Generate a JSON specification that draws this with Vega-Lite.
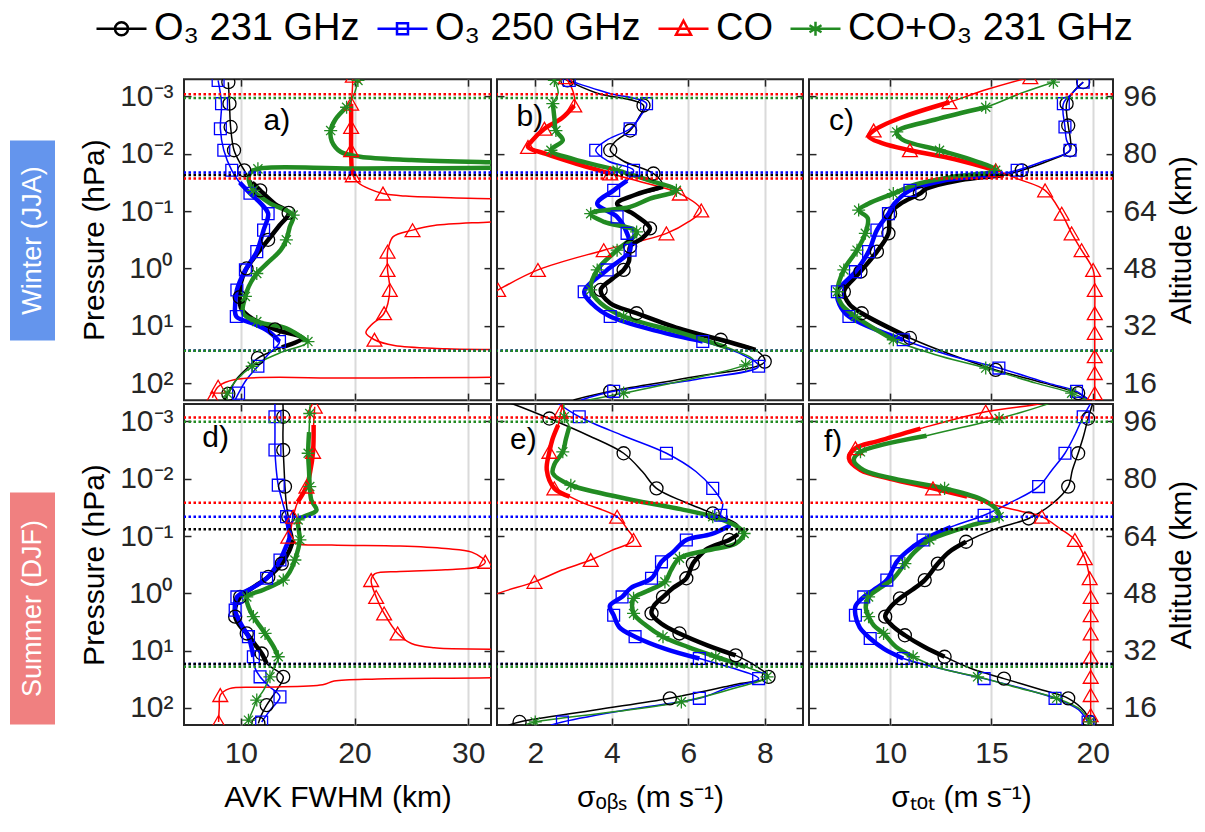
{
"$schema": "https://vega.github.io/schema/vega-lite/v6.json",
"padding": {"left": 10, "top": 2, "right": 5, "bottom": 5},
"config": {
  "font": "Liberation Sans",
  "view": {"stroke": "#262626", "strokeWidth": 2},
  "axis": {"domain": false, "grid": false, "tickSize": -7, "tickWidth": 1.5, "tickColor": "#262626", "labelFont": "Liberation Sans", "labelFontSize": 30, "labelColor": "#262626", "titleFont": "Liberation Sans", "titleFontSize": 30, "titleFontWeight": "normal", "titleColor": "#000000", "labelPadding": 18}
},
"datasets": {
"curves": [
{"panel":"a","series":"O3_231","alt":100.0,"value":8.9,"marker":1},{"panel":"a","series":"O3_231","alt":94.0,"value":9.0,"marker":1},{"panel":"a","series":"O3_231","alt":87.5,"value":9.1,"marker":1},{"panel":"a","series":"O3_231","alt":81.0,"value":9.4,"marker":1},{"panel":"a","series":"O3_231","alt":77.0,"value":10.0,"marker":0},{"panel":"a","series":"O3_231","alt":75.4,"value":10.3,"marker":1},{"panel":"a","series":"O3_231","alt":72.0,"value":11.0,"marker":0},{"panel":"a","series":"O3_231","alt":69.8,"value":11.7,"marker":1},{"panel":"a","series":"O3_231","alt":66.0,"value":13.0,"marker":0},{"panel":"a","series":"O3_231","alt":63.5,"value":14.2,"marker":1},{"panel":"a","series":"O3_231","alt":60.0,"value":13.4,"marker":0},{"panel":"a","series":"O3_231","alt":56.0,"value":12.4,"marker":1},{"panel":"a","series":"O3_231","alt":52.0,"value":11.4,"marker":0},{"panel":"a","series":"O3_231","alt":48.0,"value":10.5,"marker":1},{"panel":"a","series":"O3_231","alt":44.0,"value":10.0,"marker":0},{"panel":"a","series":"O3_231","alt":40.0,"value":9.9,"marker":1},{"panel":"a","series":"O3_231","alt":37.0,"value":10.0,"marker":0},{"panel":"a","series":"O3_231","alt":34.0,"value":11.0,"marker":0},{"panel":"a","series":"O3_231","alt":31.0,"value":13.0,"marker":1},{"panel":"a","series":"O3_231","alt":28.5,"value":15.4,"marker":0},{"panel":"a","series":"O3_231","alt":26.0,"value":13.6,"marker":0},{"panel":"a","series":"O3_231","alt":23.0,"value":11.5,"marker":1},{"panel":"a","series":"O3_231","alt":20.0,"value":10.5,"marker":0},{"panel":"a","series":"O3_231","alt":17.0,"value":9.6,"marker":0},{"panel":"a","series":"O3_231","alt":13.0,"value":8.9,"marker":1},{"panel":"a","series":"O3_231","alt":11.3,"value":8.6,"marker":0},
{"panel":"a","series":"O3_250","alt":100.5,"value":8.0,"marker":1},{"panel":"a","series":"O3_250","alt":94.0,"value":8.3,"marker":1},{"panel":"a","series":"O3_250","alt":87.0,"value":8.2,"marker":1},{"panel":"a","series":"O3_250","alt":81.0,"value":8.5,"marker":1},{"panel":"a","series":"O3_250","alt":75.4,"value":9.2,"marker":1},{"panel":"a","series":"O3_250","alt":72.0,"value":9.9,"marker":0},{"panel":"a","series":"O3_250","alt":69.0,"value":10.8,"marker":1},{"panel":"a","series":"O3_250","alt":66.0,"value":11.8,"marker":0},{"panel":"a","series":"O3_250","alt":63.3,"value":12.4,"marker":1},{"panel":"a","series":"O3_250","alt":58.7,"value":12.0,"marker":1},{"panel":"a","series":"O3_250","alt":52.7,"value":11.4,"marker":1},{"panel":"a","series":"O3_250","alt":47.6,"value":10.4,"marker":1},{"panel":"a","series":"O3_250","alt":42.0,"value":9.65,"marker":1},{"panel":"a","series":"O3_250","alt":38.0,"value":9.5,"marker":0},{"panel":"a","series":"O3_250","alt":34.6,"value":9.6,"marker":1},{"panel":"a","series":"O3_250","alt":32.7,"value":11.0,"marker":0},{"panel":"a","series":"O3_250","alt":30.5,"value":12.4,"marker":0},{"panel":"a","series":"O3_250","alt":27.6,"value":13.4,"marker":1},{"panel":"a","series":"O3_250","alt":24.0,"value":12.4,"marker":0},{"panel":"a","series":"O3_250","alt":20.7,"value":11.5,"marker":1},{"panel":"a","series":"O3_250","alt":17.0,"value":10.5,"marker":0},{"panel":"a","series":"O3_250","alt":13.2,"value":9.8,"marker":1},{"panel":"a","series":"O3_250","alt":11.3,"value":9.5,"marker":0},
{"panel":"a","series":"CO","alt":101.8,"value":19.85,"marker":1},{"panel":"a","series":"CO","alt":97.5,"value":19.8,"marker":0},{"panel":"a","series":"CO","alt":94.0,"value":19.7,"marker":1},{"panel":"a","series":"CO","alt":87.5,"value":19.7,"marker":1},{"panel":"a","series":"CO","alt":81.0,"value":19.7,"marker":1},{"panel":"a","series":"CO","alt":76.0,"value":19.75,"marker":0},{"panel":"a","series":"CO","alt":74.0,"value":19.85,"marker":1},{"panel":"a","series":"CO","alt":72.0,"value":20.3,"marker":0},{"panel":"a","series":"CO","alt":70.2,"value":21.3,"marker":0},{"panel":"a","series":"CO","alt":68.9,"value":22.5,"marker":1},{"panel":"a","series":"CO","alt":68.2,"value":24.5,"marker":0},{"panel":"a","series":"CO","alt":67.6,"value":30,"marker":0},{"panel":"a","series":"CO","alt":67.0,"value":38,"marker":0},{"panel":"a","series":"CO","alt":65.0,"value":45,"marker":0},{"panel":"a","series":"CO","alt":62.5,"value":42,"marker":0},{"panel":"a","series":"CO","alt":61.0,"value":32,"marker":0},{"panel":"a","series":"CO","alt":60.0,"value":27,"marker":0},{"panel":"a","series":"CO","alt":58.7,"value":25.1,"marker":1},{"panel":"a","series":"CO","alt":56.9,"value":23.4,"marker":0},{"panel":"a","series":"CO","alt":54.1,"value":23.0,"marker":0},{"panel":"a","series":"CO","alt":52.7,"value":22.9,"marker":1},{"panel":"a","series":"CO","alt":47.6,"value":22.9,"marker":1},{"panel":"a","series":"CO","alt":42.0,"value":23.1,"marker":1},{"panel":"a","series":"CO","alt":35.5,"value":22.6,"marker":1},{"panel":"a","series":"CO","alt":32.0,"value":21.4,"marker":0},{"panel":"a","series":"CO","alt":30.0,"value":21.0,"marker":0},{"panel":"a","series":"CO","alt":28.1,"value":21.75,"marker":1},{"panel":"a","series":"CO","alt":26.5,"value":23.5,"marker":0},{"panel":"a","series":"CO","alt":25.6,"value":28,"marker":0},{"panel":"a","series":"CO","alt":25.0,"value":36,"marker":0},{"panel":"a","series":"CO","alt":22.0,"value":45,"marker":0},{"panel":"a","series":"CO","alt":19.0,"value":45,"marker":0},{"panel":"a","series":"CO","alt":17.8,"value":36,"marker":0},{"panel":"a","series":"CO","alt":17.4,"value":20,"marker":0},{"panel":"a","series":"CO","alt":17.0,"value":9.5,"marker":0},{"panel":"a","series":"CO","alt":15.0,"value":8.0,"marker":1},{"panel":"a","series":"CO","alt":11.9,"value":7.5,"marker":1},
{"panel":"a","series":"CO_O3","alt":100.5,"value":20.3,"marker":1},{"panel":"a","series":"CO_O3","alt":97.0,"value":20.0,"marker":0},{"panel":"a","series":"CO_O3","alt":93.0,"value":19.3,"marker":1},{"panel":"a","series":"CO_O3","alt":89.5,"value":18.3,"marker":0},{"panel":"a","series":"CO_O3","alt":86.5,"value":17.9,"marker":1},{"panel":"a","series":"CO_O3","alt":83.5,"value":18.0,"marker":0},{"panel":"a","series":"CO_O3","alt":80.5,"value":18.8,"marker":0},{"panel":"a","series":"CO_O3","alt":79.2,"value":20.5,"marker":0},{"panel":"a","series":"CO_O3","alt":78.3,"value":25,"marker":0},{"panel":"a","series":"CO_O3","alt":77.6,"value":33,"marker":0},{"panel":"a","series":"CO_O3","alt":77.0,"value":42,"marker":0},{"panel":"a","series":"CO_O3","alt":76.3,"value":36,"marker":0},{"panel":"a","series":"CO_O3","alt":75.9,"value":20,"marker":0},{"panel":"a","series":"CO_O3","alt":75.8,"value":11.5,"marker":1},{"panel":"a","series":"CO_O3","alt":74.5,"value":10.8,"marker":0},{"panel":"a","series":"CO_O3","alt":72.5,"value":10.7,"marker":0},{"panel":"a","series":"CO_O3","alt":69.8,"value":11.1,"marker":1},{"panel":"a","series":"CO_O3","alt":66.1,"value":12.6,"marker":0},{"panel":"a","series":"CO_O3","alt":62.9,"value":14.6,"marker":1},{"panel":"a","series":"CO_O3","alt":59.6,"value":14.3,"marker":0},{"panel":"a","series":"CO_O3","alt":56.0,"value":14.0,"marker":1},{"panel":"a","series":"CO_O3","alt":53.1,"value":13.5,"marker":0},{"panel":"a","series":"CO_O3","alt":49.4,"value":12.3,"marker":0},{"panel":"a","series":"CO_O3","alt":46.6,"value":11.4,"marker":1},{"panel":"a","series":"CO_O3","alt":43.0,"value":10.7,"marker":0},{"panel":"a","series":"CO_O3","alt":40.2,"value":10.4,"marker":1},{"panel":"a","series":"CO_O3","alt":35.5,"value":10.2,"marker":0},{"panel":"a","series":"CO_O3","alt":33.2,"value":11.4,"marker":1},{"panel":"a","series":"CO_O3","alt":31.3,"value":14.0,"marker":0},{"panel":"a","series":"CO_O3","alt":27.6,"value":15.9,"marker":1},{"panel":"a","series":"CO_O3","alt":24.4,"value":13.4,"marker":0},{"panel":"a","series":"CO_O3","alt":20.7,"value":11.0,"marker":1},{"panel":"a","series":"CO_O3","alt":17.0,"value":9.65,"marker":0},{"panel":"a","series":"CO_O3","alt":13.2,"value":8.8,"marker":1},{"panel":"a","series":"CO_O3","alt":11.3,"value":8.5,"marker":0},
{"panel":"b","series":"O3_231","alt":102.0,"value":2.6,"marker":0},{"panel":"b","series":"O3_231","alt":100.5,"value":2.84,"marker":1},{"panel":"b","series":"O3_231","alt":97.0,"value":3.6,"marker":0},{"panel":"b","series":"O3_231","alt":93.5,"value":4.83,"marker":1},{"panel":"b","series":"O3_231","alt":90.0,"value":4.7,"marker":0},{"panel":"b","series":"O3_231","alt":86.5,"value":4.48,"marker":1},{"panel":"b","series":"O3_231","alt":83.5,"value":4.1,"marker":0},{"panel":"b","series":"O3_231","alt":81.0,"value":3.96,"marker":1},{"panel":"b","series":"O3_231","alt":78.0,"value":4.3,"marker":0},{"panel":"b","series":"O3_231","alt":74.5,"value":5.09,"marker":1},{"panel":"b","series":"O3_231","alt":70.8,"value":5.34,"marker":0},{"panel":"b","series":"O3_231","alt":68.5,"value":4.6,"marker":0},{"panel":"b","series":"O3_231","alt":66.1,"value":4.14,"marker":0},{"panel":"b","series":"O3_231","alt":63.0,"value":4.6,"marker":0},{"panel":"b","series":"O3_231","alt":59.2,"value":5.0,"marker":1},{"panel":"b","series":"O3_231","alt":56.5,"value":4.8,"marker":0},{"panel":"b","series":"O3_231","alt":54.1,"value":4.48,"marker":1},{"panel":"b","series":"O3_231","alt":50.0,"value":4.45,"marker":0},{"panel":"b","series":"O3_231","alt":47.6,"value":4.31,"marker":1},{"panel":"b","series":"O3_231","alt":45.0,"value":4.0,"marker":0},{"panel":"b","series":"O3_231","alt":42.0,"value":3.71,"marker":1},{"panel":"b","series":"O3_231","alt":38.3,"value":3.96,"marker":0},{"panel":"b","series":"O3_231","alt":35.5,"value":4.65,"marker":1},{"panel":"b","series":"O3_231","alt":30.9,"value":5.86,"marker":0},{"panel":"b","series":"O3_231","alt":28.1,"value":6.85,"marker":1},{"panel":"b","series":"O3_231","alt":25.3,"value":7.76,"marker":0},{"panel":"b","series":"O3_231","alt":22.0,"value":8.0,"marker":1},{"panel":"b","series":"O3_231","alt":17.5,"value":6.0,"marker":0},{"panel":"b","series":"O3_231","alt":13.7,"value":3.96,"marker":1},{"panel":"b","series":"O3_231","alt":11.3,"value":3.0,"marker":0},
{"panel":"b","series":"O3_250","alt":102.0,"value":2.6,"marker":0},{"panel":"b","series":"O3_250","alt":100.5,"value":2.89,"marker":1},{"panel":"b","series":"O3_250","alt":97.0,"value":3.9,"marker":0},{"panel":"b","series":"O3_250","alt":94.0,"value":4.91,"marker":1},{"panel":"b","series":"O3_250","alt":90.5,"value":4.75,"marker":0},{"panel":"b","series":"O3_250","alt":87.0,"value":4.48,"marker":1},{"panel":"b","series":"O3_250","alt":84.0,"value":3.9,"marker":0},{"panel":"b","series":"O3_250","alt":81.0,"value":3.58,"marker":1},{"panel":"b","series":"O3_250","alt":78.0,"value":3.9,"marker":0},{"panel":"b","series":"O3_250","alt":75.4,"value":4.57,"marker":1},{"panel":"b","series":"O3_250","alt":72.5,"value":4.4,"marker":0},{"panel":"b","series":"O3_250","alt":69.8,"value":4.05,"marker":1},{"panel":"b","series":"O3_250","alt":66.1,"value":3.62,"marker":0},{"panel":"b","series":"O3_250","alt":62.4,"value":4.14,"marker":1},{"panel":"b","series":"O3_250","alt":57.8,"value":4.4,"marker":1},{"panel":"b","series":"O3_250","alt":53.1,"value":4.48,"marker":1},{"panel":"b","series":"O3_250","alt":47.6,"value":3.88,"marker":1},{"panel":"b","series":"O3_250","alt":41.5,"value":3.28,"marker":1},{"panel":"b","series":"O3_250","alt":38.0,"value":3.5,"marker":0},{"panel":"b","series":"O3_250","alt":34.6,"value":3.96,"marker":1},{"panel":"b","series":"O3_250","alt":30.5,"value":5.2,"marker":0},{"panel":"b","series":"O3_250","alt":27.6,"value":6.38,"marker":1},{"panel":"b","series":"O3_250","alt":24.0,"value":7.4,"marker":0},{"panel":"b","series":"O3_250","alt":20.7,"value":7.84,"marker":1},{"panel":"b","series":"O3_250","alt":17.0,"value":6.2,"marker":0},{"panel":"b","series":"O3_250","alt":13.7,"value":4.05,"marker":1},{"panel":"b","series":"O3_250","alt":11.3,"value":3.2,"marker":0},
{"panel":"b","series":"CO","alt":101.4,"value":2.8,"marker":1},{"panel":"b","series":"CO","alt":97.0,"value":3.0,"marker":0},{"panel":"b","series":"CO","alt":93.5,"value":3.02,"marker":1},{"panel":"b","series":"CO","alt":90.0,"value":2.7,"marker":0},{"panel":"b","series":"CO","alt":87.0,"value":2.24,"marker":1},{"panel":"b","series":"CO","alt":83.5,"value":1.9,"marker":0},{"panel":"b","series":"CO","alt":81.9,"value":1.81,"marker":1},{"panel":"b","series":"CO","alt":80.0,"value":2.28,"marker":0},{"panel":"b","series":"CO","alt":77.5,"value":3.0,"marker":0},{"panel":"b","series":"CO","alt":74.5,"value":3.96,"marker":1},{"panel":"b","series":"CO","alt":71.5,"value":5.0,"marker":0},{"panel":"b","series":"CO","alt":68.9,"value":5.78,"marker":1},{"panel":"b","series":"CO","alt":64.2,"value":6.34,"marker":1},{"panel":"b","series":"CO","alt":61.0,"value":6.0,"marker":0},{"panel":"b","series":"CO","alt":57.8,"value":5.43,"marker":1},{"panel":"b","series":"CO","alt":53.1,"value":3.79,"marker":1},{"panel":"b","series":"CO","alt":47.6,"value":2.07,"marker":1},{"panel":"b","series":"CO","alt":42.0,"value":1.03,"marker":1},{"panel":"b","series":"CO","alt":38.0,"value":0.4,"marker":0},{"panel":"b","series":"CO","alt":30.0,"value":0.2,"marker":0},{"panel":"b","series":"CO","alt":11.3,"value":0.2,"marker":0},
{"panel":"b","series":"CO_O3","alt":101.5,"value":2.45,"marker":0},{"panel":"b","series":"CO_O3","alt":100.5,"value":2.5,"marker":1},{"panel":"b","series":"CO_O3","alt":97.0,"value":2.6,"marker":0},{"panel":"b","series":"CO_O3","alt":94.0,"value":2.46,"marker":1},{"panel":"b","series":"CO_O3","alt":90.0,"value":2.5,"marker":0},{"panel":"b","series":"CO_O3","alt":86.5,"value":2.54,"marker":1},{"panel":"b","series":"CO_O3","alt":83.8,"value":2.72,"marker":0},{"panel":"b","series":"CO_O3","alt":81.0,"value":2.41,"marker":1},{"panel":"b","series":"CO_O3","alt":78.5,"value":3.0,"marker":0},{"panel":"b","series":"CO_O3","alt":75.4,"value":4.14,"marker":1},{"panel":"b","series":"CO_O3","alt":72.5,"value":5.0,"marker":0},{"panel":"b","series":"CO_O3","alt":69.8,"value":5.69,"marker":1},{"panel":"b","series":"CO_O3","alt":67.5,"value":5.0,"marker":0},{"panel":"b","series":"CO_O3","alt":65.2,"value":4.48,"marker":0},{"panel":"b","series":"CO_O3","alt":63.3,"value":3.45,"marker":1},{"panel":"b","series":"CO_O3","alt":61.0,"value":3.8,"marker":0},{"panel":"b","series":"CO_O3","alt":58.2,"value":4.65,"marker":1},{"panel":"b","series":"CO_O3","alt":53.1,"value":4.14,"marker":1},{"panel":"b","series":"CO_O3","alt":47.6,"value":3.62,"marker":1},{"panel":"b","series":"CO_O3","alt":42.0,"value":3.45,"marker":1},{"panel":"b","series":"CO_O3","alt":38.3,"value":3.71,"marker":0},{"panel":"b","series":"CO_O3","alt":34.6,"value":4.31,"marker":1},{"panel":"b","series":"CO_O3","alt":29.9,"value":5.86,"marker":0},{"panel":"b","series":"CO_O3","alt":26.0,"value":7.0,"marker":0},{"panel":"b","series":"CO_O3","alt":22.5,"value":7.7,"marker":0},{"panel":"b","series":"CO_O3","alt":21.1,"value":7.5,"marker":1},{"panel":"b","series":"CO_O3","alt":17.0,"value":6.0,"marker":0},{"panel":"b","series":"CO_O3","alt":13.2,"value":4.31,"marker":1},{"panel":"b","series":"CO_O3","alt":11.3,"value":3.4,"marker":0},
{"panel":"c","series":"O3_231","alt":100.0,"value":19.53,"marker":1},{"panel":"c","series":"O3_231","alt":97.0,"value":19.0,"marker":0},{"panel":"c","series":"O3_231","alt":94.0,"value":18.71,"marker":1},{"panel":"c","series":"O3_231","alt":87.9,"value":18.79,"marker":1},{"panel":"c","series":"O3_231","alt":84.0,"value":18.9,"marker":0},{"panel":"c","series":"O3_231","alt":81.0,"value":18.88,"marker":1},{"panel":"c","series":"O3_231","alt":78.0,"value":17.8,"marker":0},{"panel":"c","series":"O3_231","alt":75.4,"value":16.5,"marker":1},{"panel":"c","series":"O3_231","alt":74.0,"value":15.6,"marker":0},{"panel":"c","series":"O3_231","alt":72.5,"value":13.3,"marker":0},{"panel":"c","series":"O3_231","alt":70.3,"value":11.8,"marker":0},{"panel":"c","series":"O3_231","alt":68.9,"value":11.47,"marker":1},{"panel":"c","series":"O3_231","alt":66.0,"value":10.5,"marker":0},{"panel":"c","series":"O3_231","alt":63.3,"value":10.0,"marker":1},{"panel":"c","series":"O3_231","alt":57.8,"value":9.92,"marker":1},{"panel":"c","series":"O3_231","alt":52.7,"value":9.35,"marker":1},{"panel":"c","series":"O3_231","alt":47.1,"value":8.54,"marker":1},{"panel":"c","series":"O3_231","alt":41.5,"value":7.72,"marker":1},{"panel":"c","series":"O3_231","alt":38.0,"value":8.0,"marker":0},{"panel":"c","series":"O3_231","alt":35.5,"value":8.6,"marker":1},{"panel":"c","series":"O3_231","alt":28.6,"value":10.98,"marker":1},{"panel":"c","series":"O3_231","alt":24.0,"value":13.0,"marker":0},{"panel":"c","series":"O3_231","alt":19.7,"value":15.21,"marker":1},{"panel":"c","series":"O3_231","alt":16.0,"value":17.6,"marker":0},{"panel":"c","series":"O3_231","alt":13.2,"value":19.28,"marker":1},{"panel":"c","series":"O3_231","alt":11.3,"value":19.8,"marker":0},
{"panel":"c","series":"O3_250","alt":100.0,"value":19.53,"marker":1},{"panel":"c","series":"O3_250","alt":97.0,"value":19.0,"marker":0},{"panel":"c","series":"O3_250","alt":94.0,"value":18.55,"marker":1},{"panel":"c","series":"O3_250","alt":87.5,"value":18.63,"marker":1},{"panel":"c","series":"O3_250","alt":84.0,"value":18.7,"marker":0},{"panel":"c","series":"O3_250","alt":81.0,"value":18.88,"marker":1},{"panel":"c","series":"O3_250","alt":78.0,"value":17.6,"marker":0},{"panel":"c","series":"O3_250","alt":75.4,"value":16.27,"marker":1},{"panel":"c","series":"O3_250","alt":74.0,"value":15.2,"marker":0},{"panel":"c","series":"O3_250","alt":72.5,"value":12.6,"marker":0},{"panel":"c","series":"O3_250","alt":69.8,"value":10.98,"marker":1},{"panel":"c","series":"O3_250","alt":66.0,"value":10.2,"marker":0},{"panel":"c","series":"O3_250","alt":63.3,"value":9.92,"marker":1},{"panel":"c","series":"O3_250","alt":58.7,"value":9.35,"marker":1},{"panel":"c","series":"O3_250","alt":52.7,"value":8.94,"marker":1},{"panel":"c","series":"O3_250","alt":47.1,"value":8.29,"marker":1},{"panel":"c","series":"O3_250","alt":41.5,"value":7.4,"marker":1},{"panel":"c","series":"O3_250","alt":38.0,"value":7.5,"marker":0},{"panel":"c","series":"O3_250","alt":34.6,"value":7.97,"marker":1},{"panel":"c","series":"O3_250","alt":28.1,"value":10.65,"marker":1},{"panel":"c","series":"O3_250","alt":24.0,"value":12.8,"marker":0},{"panel":"c","series":"O3_250","alt":20.2,"value":15.37,"marker":1},{"panel":"c","series":"O3_250","alt":16.0,"value":17.8,"marker":0},{"panel":"c","series":"O3_250","alt":13.7,"value":19.2,"marker":1},{"panel":"c","series":"O3_250","alt":11.3,"value":19.8,"marker":0},
{"panel":"c","series":"CO","alt":101.4,"value":16.92,"marker":1},{"panel":"c","series":"CO","alt":98.0,"value":14.8,"marker":0},{"panel":"c","series":"CO","alt":94.4,"value":12.93,"marker":1},{"panel":"c","series":"CO","alt":90.0,"value":10.5,"marker":0},{"panel":"c","series":"CO","alt":86.5,"value":9.19,"marker":1},{"panel":"c","series":"CO","alt":84.8,"value":8.95,"marker":0},{"panel":"c","series":"CO","alt":83.0,"value":9.6,"marker":0},{"panel":"c","series":"CO","alt":81.0,"value":10.98,"marker":1},{"panel":"c","series":"CO","alt":78.5,"value":13.2,"marker":0},{"panel":"c","series":"CO","alt":75.4,"value":15.21,"marker":1},{"panel":"c","series":"CO","alt":73.0,"value":16.3,"marker":0},{"panel":"c","series":"CO","alt":69.8,"value":17.65,"marker":1},{"panel":"c","series":"CO","alt":63.3,"value":18.47,"marker":1},{"panel":"c","series":"CO","alt":57.8,"value":18.96,"marker":1},{"panel":"c","series":"CO","alt":53.1,"value":19.45,"marker":1},{"panel":"c","series":"CO","alt":47.6,"value":20.02,"marker":1},{"panel":"c","series":"CO","alt":42.0,"value":20.1,"marker":1},{"panel":"c","series":"CO","alt":35.5,"value":20.1,"marker":1},{"panel":"c","series":"CO","alt":30.0,"value":20.1,"marker":1},{"panel":"c","series":"CO","alt":23.5,"value":20.1,"marker":1},{"panel":"c","series":"CO","alt":18.8,"value":20.1,"marker":1},{"panel":"c","series":"CO","alt":13.2,"value":20.1,"marker":1},{"panel":"c","series":"CO","alt":11.3,"value":20.1,"marker":0},
{"panel":"c","series":"CO_O3","alt":100.0,"value":18.06,"marker":1},{"panel":"c","series":"CO_O3","alt":97.0,"value":16.5,"marker":0},{"panel":"c","series":"CO_O3","alt":93.0,"value":14.72,"marker":1},{"panel":"c","series":"CO_O3","alt":89.5,"value":12.2,"marker":0},{"panel":"c","series":"CO_O3","alt":86.1,"value":10.33,"marker":1},{"panel":"c","series":"CO_O3","alt":84.0,"value":10.6,"marker":0},{"panel":"c","series":"CO_O3","alt":81.0,"value":12.44,"marker":1},{"panel":"c","series":"CO_O3","alt":78.0,"value":14.2,"marker":0},{"panel":"c","series":"CO_O3","alt":75.4,"value":15.21,"marker":1},{"panel":"c","series":"CO_O3","alt":73.5,"value":13.0,"marker":0},{"panel":"c","series":"CO_O3","alt":71.5,"value":11.3,"marker":0},{"panel":"c","series":"CO_O3","alt":68.9,"value":10.16,"marker":1},{"panel":"c","series":"CO_O3","alt":66.0,"value":8.9,"marker":0},{"panel":"c","series":"CO_O3","alt":64.3,"value":8.45,"marker":1},{"panel":"c","series":"CO_O3","alt":62.0,"value":8.9,"marker":0},{"panel":"c","series":"CO_O3","alt":57.8,"value":8.78,"marker":1},{"panel":"c","series":"CO_O3","alt":53.1,"value":8.37,"marker":1},{"panel":"c","series":"CO_O3","alt":47.6,"value":7.72,"marker":1},{"panel":"c","series":"CO_O3","alt":41.5,"value":7.4,"marker":1},{"panel":"c","series":"CO_O3","alt":38.0,"value":7.6,"marker":0},{"panel":"c","series":"CO_O3","alt":34.6,"value":8.29,"marker":1},{"panel":"c","series":"CO_O3","alt":28.1,"value":10.16,"marker":1},{"panel":"c","series":"CO_O3","alt":24.0,"value":12.2,"marker":0},{"panel":"c","series":"CO_O3","alt":20.2,"value":14.72,"marker":1},{"panel":"c","series":"CO_O3","alt":16.0,"value":17.2,"marker":0},{"panel":"c","series":"CO_O3","alt":13.2,"value":18.96,"marker":1},{"panel":"c","series":"CO_O3","alt":11.3,"value":19.7,"marker":0},
{"panel":"d","series":"O3_231","alt":101.0,"value":13.7,"marker":0},{"panel":"d","series":"O3_231","alt":97.3,"value":13.73,"marker":1},{"panel":"d","series":"O3_231","alt":92.0,"value":13.7,"marker":0},{"panel":"d","series":"O3_231","alt":88.0,"value":13.73,"marker":1},{"panel":"d","series":"O3_231","alt":83.0,"value":13.8,"marker":0},{"panel":"d","series":"O3_231","alt":77.8,"value":13.88,"marker":1},{"panel":"d","series":"O3_231","alt":73.0,"value":14.0,"marker":0},{"panel":"d","series":"O3_231","alt":69.4,"value":14.17,"marker":1},{"panel":"d","series":"O3_231","alt":66.0,"value":14.4,"marker":0},{"panel":"d","series":"O3_231","alt":62.9,"value":14.6,"marker":0},{"panel":"d","series":"O3_231","alt":59.5,"value":14.2,"marker":0},{"panel":"d","series":"O3_231","alt":56.3,"value":13.6,"marker":1},{"panel":"d","series":"O3_231","alt":52.6,"value":12.42,"marker":1},{"panel":"d","series":"O3_231","alt":49.5,"value":11.0,"marker":0},{"panel":"d","series":"O3_231","alt":47.0,"value":9.94,"marker":1},{"panel":"d","series":"O3_231","alt":44.0,"value":9.5,"marker":0},{"panel":"d","series":"O3_231","alt":41.5,"value":9.5,"marker":1},{"panel":"d","series":"O3_231","alt":39.0,"value":9.9,"marker":0},{"panel":"d","series":"O3_231","alt":36.8,"value":10.52,"marker":1},{"panel":"d","series":"O3_231","alt":33.5,"value":11.3,"marker":0},{"panel":"d","series":"O3_231","alt":31.2,"value":11.83,"marker":1},{"panel":"d","series":"O3_231","alt":28.4,"value":12.27,"marker":0},{"panel":"d","series":"O3_231","alt":24.7,"value":13.73,"marker":1},{"panel":"d","series":"O3_231","alt":21.0,"value":13.15,"marker":0},{"panel":"d","series":"O3_231","alt":16.8,"value":12.27,"marker":1},{"panel":"d","series":"O3_231","alt":14.0,"value":11.8,"marker":0},{"panel":"d","series":"O3_231","alt":11.7,"value":11.54,"marker":1},
{"panel":"d","series":"O3_250","alt":101.0,"value":13.0,"marker":0},{"panel":"d","series":"O3_250","alt":97.3,"value":13.0,"marker":1},{"panel":"d","series":"O3_250","alt":92.0,"value":13.0,"marker":0},{"panel":"d","series":"O3_250","alt":88.0,"value":13.0,"marker":1},{"panel":"d","series":"O3_250","alt":83.0,"value":13.1,"marker":0},{"panel":"d","series":"O3_250","alt":78.2,"value":13.29,"marker":1},{"panel":"d","series":"O3_250","alt":73.0,"value":13.7,"marker":0},{"panel":"d","series":"O3_250","alt":69.4,"value":14.02,"marker":1},{"panel":"d","series":"O3_250","alt":66.0,"value":14.2,"marker":0},{"panel":"d","series":"O3_250","alt":63.8,"value":14.3,"marker":0},{"panel":"d","series":"O3_250","alt":60.5,"value":13.9,"marker":0},{"panel":"d","series":"O3_250","alt":57.3,"value":13.44,"marker":1},{"panel":"d","series":"O3_250","alt":52.2,"value":12.27,"marker":1},{"panel":"d","series":"O3_250","alt":49.5,"value":11.0,"marker":0},{"panel":"d","series":"O3_250","alt":47.0,"value":9.65,"marker":1},{"panel":"d","series":"O3_250","alt":43.3,"value":9.5,"marker":1},{"panel":"d","series":"O3_250","alt":39.5,"value":10.0,"marker":0},{"panel":"d","series":"O3_250","alt":35.9,"value":10.67,"marker":1},{"panel":"d","series":"O3_250","alt":30.3,"value":11.1,"marker":1},{"panel":"d","series":"O3_250","alt":27.5,"value":11.2,"marker":0},{"panel":"d","series":"O3_250","alt":24.7,"value":11.69,"marker":1},{"panel":"d","series":"O3_250","alt":22.0,"value":12.5,"marker":0},{"panel":"d","series":"O3_250","alt":19.1,"value":13.44,"marker":1},{"panel":"d","series":"O3_250","alt":15.5,"value":12.6,"marker":0},{"panel":"d","series":"O3_250","alt":12.1,"value":11.83,"marker":1},
{"panel":"d","series":"CO","alt":100.1,"value":16.5,"marker":1},{"panel":"d","series":"CO","alt":95.0,"value":16.4,"marker":0},{"panel":"d","series":"CO","alt":87.5,"value":16.35,"marker":1},{"panel":"d","series":"CO","alt":82.0,"value":16.1,"marker":0},{"panel":"d","series":"CO","alt":77.8,"value":15.77,"marker":1},{"panel":"d","series":"CO","alt":73.5,"value":15.0,"marker":0},{"panel":"d","series":"CO","alt":69.4,"value":14.6,"marker":1},{"panel":"d","series":"CO","alt":66.0,"value":14.4,"marker":0},{"panel":"d","series":"CO","alt":63.8,"value":14.17,"marker":1},{"panel":"d","series":"CO","alt":62.0,"value":14.8,"marker":0},{"panel":"d","series":"CO","alt":61.5,"value":18,"marker":0},{"panel":"d","series":"CO","alt":61.2,"value":24,"marker":0},{"panel":"d","series":"CO","alt":60.5,"value":28,"marker":0},{"panel":"d","series":"CO","alt":59.5,"value":30.3,"marker":0},{"panel":"d","series":"CO","alt":56.8,"value":31.5,"marker":1},{"panel":"d","series":"CO","alt":55.5,"value":31.0,"marker":0},{"panel":"d","series":"CO","alt":54.6,"value":28,"marker":0},{"panel":"d","series":"CO","alt":54.1,"value":24,"marker":0},{"panel":"d","series":"CO","alt":53.5,"value":21.8,"marker":0},{"panel":"d","series":"CO","alt":51.7,"value":21.46,"marker":1},{"panel":"d","series":"CO","alt":47.0,"value":21.9,"marker":1},{"panel":"d","series":"CO","alt":42.4,"value":22.6,"marker":1},{"panel":"d","series":"CO","alt":36.8,"value":23.79,"marker":1},{"panel":"d","series":"CO","alt":34.0,"value":25.0,"marker":0},{"panel":"d","series":"CO","alt":32.8,"value":27.0,"marker":0},{"panel":"d","series":"CO","alt":32.3,"value":33,"marker":0},{"panel":"d","series":"CO","alt":30.0,"value":45,"marker":0},{"panel":"d","series":"CO","alt":26.0,"value":45,"marker":0},{"panel":"d","series":"CO","alt":24.5,"value":33,"marker":0},{"panel":"d","series":"CO","alt":24.1,"value":22,"marker":0},{"panel":"d","series":"CO","alt":23.5,"value":18.2,"marker":0},{"panel":"d","series":"CO","alt":22.5,"value":17.2,"marker":0},{"panel":"d","series":"CO","alt":21.8,"value":12,"marker":0},{"panel":"d","series":"CO","alt":21.4,"value":9,"marker":0},{"panel":"d","series":"CO","alt":19.6,"value":8.19,"marker":1},{"panel":"d","series":"CO","alt":16.0,"value":8.1,"marker":0},{"panel":"d","series":"CO","alt":12.1,"value":8.04,"marker":1},
{"panel":"d","series":"CO_O3","alt":101.0,"value":16.1,"marker":0},{"panel":"d","series":"CO_O3","alt":98.2,"value":16.06,"marker":1},{"panel":"d","series":"CO_O3","alt":93.0,"value":16.0,"marker":0},{"panel":"d","series":"CO_O3","alt":87.1,"value":15.92,"marker":1},{"panel":"d","series":"CO_O3","alt":82.0,"value":16.0,"marker":0},{"panel":"d","series":"CO_O3","alt":77.8,"value":16.06,"marker":1},{"panel":"d","series":"CO_O3","alt":74.0,"value":16.2,"marker":0},{"panel":"d","series":"CO_O3","alt":71.2,"value":16.65,"marker":0},{"panel":"d","series":"CO_O3","alt":69.5,"value":15.6,"marker":0},{"panel":"d","series":"CO_O3","alt":68.5,"value":15.04,"marker":1},{"panel":"d","series":"CO_O3","alt":65.5,"value":15.1,"marker":0},{"panel":"d","series":"CO_O3","alt":62.9,"value":15.19,"marker":1},{"panel":"d","series":"CO_O3","alt":57.3,"value":14.75,"marker":1},{"panel":"d","series":"CO_O3","alt":54.0,"value":14.3,"marker":0},{"panel":"d","series":"CO_O3","alt":51.7,"value":13.73,"marker":1},{"panel":"d","series":"CO_O3","alt":49.0,"value":12.0,"marker":0},{"panel":"d","series":"CO_O3","alt":47.0,"value":10.52,"marker":1},{"panel":"d","series":"CO_O3","alt":44.0,"value":10.7,"marker":0},{"panel":"d","series":"CO_O3","alt":41.5,"value":11.1,"marker":1},{"panel":"d","series":"CO_O3","alt":36.8,"value":12.13,"marker":1},{"panel":"d","series":"CO_O3","alt":33.0,"value":12.9,"marker":0},{"panel":"d","series":"CO_O3","alt":30.3,"value":13.29,"marker":1},{"panel":"d","series":"CO_O3","alt":27.0,"value":12.9,"marker":0},{"panel":"d","series":"CO_O3","alt":24.7,"value":12.56,"marker":1},{"panel":"d","series":"CO_O3","alt":21.0,"value":12.0,"marker":0},{"panel":"d","series":"CO_O3","alt":18.2,"value":11.4,"marker":1},{"panel":"d","series":"CO_O3","alt":15.0,"value":11.0,"marker":0},{"panel":"d","series":"CO_O3","alt":12.6,"value":10.67,"marker":1},
{"panel":"e","series":"O3_231","alt":103.0,"value":0.8,"marker":0},{"panel":"e","series":"O3_231","alt":101.0,"value":1.38,"marker":0},{"panel":"e","series":"O3_231","alt":96.8,"value":2.37,"marker":1},{"panel":"e","series":"O3_231","alt":92.0,"value":3.4,"marker":0},{"panel":"e","series":"O3_231","alt":87.1,"value":4.31,"marker":1},{"panel":"e","series":"O3_231","alt":82.0,"value":4.8,"marker":0},{"panel":"e","series":"O3_231","alt":77.3,"value":5.17,"marker":1},{"panel":"e","series":"O3_231","alt":73.5,"value":5.9,"marker":0},{"panel":"e","series":"O3_231","alt":70.3,"value":6.64,"marker":1},{"panel":"e","series":"O3_231","alt":67.0,"value":7.3,"marker":0},{"panel":"e","series":"O3_231","alt":64.5,"value":7.3,"marker":0},{"panel":"e","series":"O3_231","alt":62.9,"value":7.07,"marker":1},{"panel":"e","series":"O3_231","alt":60.5,"value":6.5,"marker":0},{"panel":"e","series":"O3_231","alt":58.0,"value":6.25,"marker":0},{"panel":"e","series":"O3_231","alt":56.3,"value":6.12,"marker":1},{"panel":"e","series":"O3_231","alt":52.2,"value":5.95,"marker":1},{"panel":"e","series":"O3_231","alt":49.5,"value":5.6,"marker":0},{"panel":"e","series":"O3_231","alt":47.0,"value":5.34,"marker":1},{"panel":"e","series":"O3_231","alt":44.5,"value":5.1,"marker":0},{"panel":"e","series":"O3_231","alt":42.4,"value":5.04,"marker":1},{"panel":"e","series":"O3_231","alt":39.5,"value":5.3,"marker":0},{"panel":"e","series":"O3_231","alt":36.8,"value":5.77,"marker":1},{"panel":"e","series":"O3_231","alt":33.5,"value":6.5,"marker":0},{"panel":"e","series":"O3_231","alt":30.7,"value":7.24,"marker":1},{"panel":"e","series":"O3_231","alt":27.5,"value":7.8,"marker":0},{"panel":"e","series":"O3_231","alt":24.7,"value":8.1,"marker":1},{"panel":"e","series":"O3_231","alt":22.5,"value":7.2,"marker":0},{"panel":"e","series":"O3_231","alt":18.7,"value":5.52,"marker":1},{"panel":"e","series":"O3_231","alt":15.5,"value":3.6,"marker":0},{"panel":"e","series":"O3_231","alt":12.1,"value":1.59,"marker":1},{"panel":"e","series":"O3_231","alt":11.2,"value":1.3,"marker":0},
{"panel":"e","series":"O3_250","alt":101.0,"value":2.6,"marker":0},{"panel":"e","series":"O3_250","alt":97.3,"value":3.15,"marker":1},{"panel":"e","series":"O3_250","alt":92.0,"value":4.3,"marker":0},{"panel":"e","series":"O3_250","alt":87.1,"value":5.43,"marker":1},{"panel":"e","series":"O3_250","alt":82.0,"value":6.2,"marker":0},{"panel":"e","series":"O3_250","alt":77.3,"value":6.64,"marker":1},{"panel":"e","series":"O3_250","alt":73.0,"value":6.9,"marker":0},{"panel":"e","series":"O3_250","alt":69.8,"value":6.85,"marker":1},{"panel":"e","series":"O3_250","alt":67.0,"value":7.1,"marker":0},{"panel":"e","series":"O3_250","alt":64.5,"value":6.6,"marker":0},{"panel":"e","series":"O3_250","alt":62.9,"value":5.95,"marker":1},{"panel":"e","series":"O3_250","alt":59.5,"value":5.6,"marker":0},{"panel":"e","series":"O3_250","alt":56.8,"value":5.3,"marker":1},{"panel":"e","series":"O3_250","alt":52.2,"value":5.04,"marker":1},{"panel":"e","series":"O3_250","alt":49.5,"value":4.5,"marker":0},{"panel":"e","series":"O3_250","alt":47.0,"value":4.27,"marker":1},{"panel":"e","series":"O3_250","alt":44.5,"value":3.95,"marker":0},{"panel":"e","series":"O3_250","alt":41.9,"value":4.05,"marker":1},{"panel":"e","series":"O3_250","alt":38.5,"value":4.2,"marker":0},{"panel":"e","series":"O3_250","alt":35.9,"value":4.61,"marker":1},{"panel":"e","series":"O3_250","alt":32.5,"value":5.4,"marker":0},{"panel":"e","series":"O3_250","alt":29.8,"value":6.29,"marker":1},{"panel":"e","series":"O3_250","alt":27.0,"value":7.2,"marker":0},{"panel":"e","series":"O3_250","alt":24.2,"value":7.84,"marker":1},{"panel":"e","series":"O3_250","alt":21.5,"value":7.0,"marker":0},{"panel":"e","series":"O3_250","alt":18.7,"value":6.29,"marker":1},{"panel":"e","series":"O3_250","alt":15.5,"value":4.4,"marker":0},{"panel":"e","series":"O3_250","alt":12.1,"value":2.71,"marker":1},{"panel":"e","series":"O3_250","alt":11.2,"value":2.4,"marker":0},
{"panel":"e","series":"CO","alt":101.5,"value":2.75,"marker":0},{"panel":"e","series":"CO","alt":98.7,"value":2.67,"marker":1},{"panel":"e","series":"CO","alt":95.0,"value":2.6,"marker":0},{"panel":"e","series":"CO","alt":91.0,"value":2.45,"marker":0},{"panel":"e","series":"CO","alt":87.5,"value":2.37,"marker":1},{"panel":"e","series":"CO","alt":82.5,"value":2.3,"marker":0},{"panel":"e","series":"CO","alt":77.3,"value":2.5,"marker":1},{"panel":"e","series":"CO","alt":75.0,"value":2.9,"marker":0},{"panel":"e","series":"CO","alt":73.1,"value":3.28,"marker":0},{"panel":"e","series":"CO","alt":69.4,"value":4.14,"marker":1},{"panel":"e","series":"CO","alt":66.0,"value":4.4,"marker":0},{"panel":"e","series":"CO","alt":62.9,"value":4.57,"marker":1},{"panel":"e","series":"CO","alt":60.0,"value":4.0,"marker":0},{"panel":"e","series":"CO","alt":57.3,"value":3.45,"marker":1},{"panel":"e","series":"CO","alt":54.5,"value":2.7,"marker":0},{"panel":"e","series":"CO","alt":51.2,"value":1.98,"marker":1},{"panel":"e","series":"CO","alt":48.0,"value":1.03,"marker":0},{"panel":"e","series":"CO","alt":45.0,"value":0.4,"marker":0},{"panel":"e","series":"CO","alt":30.0,"value":0.2,"marker":0},{"panel":"e","series":"CO","alt":11.2,"value":0.2,"marker":0},
{"panel":"e","series":"CO_O3","alt":101.0,"value":2.75,"marker":0},{"panel":"e","series":"CO_O3","alt":97.3,"value":2.76,"marker":1},{"panel":"e","series":"CO_O3","alt":94.5,"value":2.89,"marker":0},{"panel":"e","series":"CO_O3","alt":91.0,"value":2.8,"marker":0},{"panel":"e","series":"CO_O3","alt":87.5,"value":2.72,"marker":1},{"panel":"e","series":"CO_O3","alt":84.0,"value":2.5,"marker":0},{"panel":"e","series":"CO_O3","alt":81.5,"value":2.46,"marker":0},{"panel":"e","series":"CO_O3","alt":78.2,"value":2.93,"marker":1},{"panel":"e","series":"CO_O3","alt":76.0,"value":3.7,"marker":0},{"panel":"e","series":"CO_O3","alt":74.0,"value":4.57,"marker":0},{"panel":"e","series":"CO_O3","alt":71.5,"value":5.8,"marker":0},{"panel":"e","series":"CO_O3","alt":69.4,"value":6.64,"marker":1},{"panel":"e","series":"CO_O3","alt":66.5,"value":7.3,"marker":0},{"panel":"e","series":"CO_O3","alt":64.7,"value":7.46,"marker":1},{"panel":"e","series":"CO_O3","alt":61.9,"value":7.24,"marker":0},{"panel":"e","series":"CO_O3","alt":60.0,"value":6.5,"marker":0},{"panel":"e","series":"CO_O3","alt":57.8,"value":5.77,"marker":1},{"panel":"e","series":"CO_O3","alt":54.5,"value":5.55,"marker":0},{"panel":"e","series":"CO_O3","alt":51.2,"value":5.39,"marker":1},{"panel":"e","series":"CO_O3","alt":48.5,"value":4.9,"marker":0},{"panel":"e","series":"CO_O3","alt":46.6,"value":4.57,"marker":1},{"panel":"e","series":"CO_O3","alt":42.4,"value":4.57,"marker":1},{"panel":"e","series":"CO_O3","alt":39.0,"value":4.9,"marker":0},{"panel":"e","series":"CO_O3","alt":35.9,"value":5.34,"marker":1},{"panel":"e","series":"CO_O3","alt":33.0,"value":6.0,"marker":0},{"panel":"e","series":"CO_O3","alt":30.3,"value":6.72,"marker":1},{"panel":"e","series":"CO_O3","alt":27.5,"value":7.5,"marker":0},{"panel":"e","series":"CO_O3","alt":24.7,"value":8.06,"marker":1},{"panel":"e","series":"CO_O3","alt":21.5,"value":7.2,"marker":0},{"panel":"e","series":"CO_O3","alt":17.7,"value":5.82,"marker":1},{"panel":"e","series":"CO_O3","alt":15.0,"value":4.1,"marker":0},{"panel":"e","series":"CO_O3","alt":12.1,"value":2.0,"marker":1},{"panel":"e","series":"CO_O3","alt":11.2,"value":1.7,"marker":0},
{"panel":"f","series":"O3_231","alt":101.0,"value":20.0,"marker":0},{"panel":"f","series":"O3_231","alt":96.8,"value":19.77,"marker":1},{"panel":"f","series":"O3_231","alt":92.0,"value":19.55,"marker":0},{"panel":"f","series":"O3_231","alt":87.1,"value":19.28,"marker":1},{"panel":"f","series":"O3_231","alt":82.5,"value":19.0,"marker":0},{"panel":"f","series":"O3_231","alt":77.8,"value":18.79,"marker":1},{"panel":"f","series":"O3_231","alt":73.0,"value":18.0,"marker":0},{"panel":"f","series":"O3_231","alt":68.9,"value":16.84,"marker":1},{"panel":"f","series":"O3_231","alt":66.0,"value":15.2,"marker":0},{"panel":"f","series":"O3_231","alt":62.4,"value":13.75,"marker":1},{"panel":"f","series":"O3_231","alt":59.5,"value":12.9,"marker":0},{"panel":"f","series":"O3_231","alt":56.3,"value":12.36,"marker":1},{"panel":"f","series":"O3_231","alt":51.7,"value":11.71,"marker":1},{"panel":"f","series":"O3_231","alt":49.0,"value":11.1,"marker":0},{"panel":"f","series":"O3_231","alt":46.6,"value":10.49,"marker":1},{"panel":"f","series":"O3_231","alt":44.0,"value":10.0,"marker":0},{"panel":"f","series":"O3_231","alt":41.5,"value":9.76,"marker":1},{"panel":"f","series":"O3_231","alt":39.0,"value":10.1,"marker":0},{"panel":"f","series":"O3_231","alt":36.3,"value":10.73,"marker":1},{"panel":"f","series":"O3_231","alt":33.0,"value":11.7,"marker":0},{"panel":"f","series":"O3_231","alt":30.3,"value":12.69,"marker":1},{"panel":"f","series":"O3_231","alt":27.0,"value":14.0,"marker":0},{"panel":"f","series":"O3_231","alt":24.2,"value":15.62,"marker":1},{"panel":"f","series":"O3_231","alt":21.0,"value":17.5,"marker":0},{"panel":"f","series":"O3_231","alt":18.7,"value":18.79,"marker":1},{"panel":"f","series":"O3_231","alt":15.0,"value":19.6,"marker":0},{"panel":"f","series":"O3_231","alt":12.1,"value":19.85,"marker":1},{"panel":"f","series":"O3_231","alt":11.2,"value":19.9,"marker":0},
{"panel":"f","series":"O3_250","alt":101.0,"value":19.9,"marker":0},{"panel":"f","series":"O3_250","alt":97.3,"value":19.53,"marker":1},{"panel":"f","series":"O3_250","alt":92.0,"value":19.1,"marker":0},{"panel":"f","series":"O3_250","alt":87.1,"value":18.63,"marker":1},{"panel":"f","series":"O3_250","alt":82.5,"value":18.0,"marker":0},{"panel":"f","series":"O3_250","alt":77.8,"value":17.33,"marker":1},{"panel":"f","series":"O3_250","alt":73.5,"value":16.0,"marker":0},{"panel":"f","series":"O3_250","alt":69.8,"value":14.64,"marker":1},{"panel":"f","series":"O3_250","alt":66.5,"value":13.0,"marker":0},{"panel":"f","series":"O3_250","alt":62.9,"value":11.63,"marker":1},{"panel":"f","series":"O3_250","alt":59.5,"value":10.8,"marker":0},{"panel":"f","series":"O3_250","alt":56.8,"value":10.33,"marker":1},{"panel":"f","series":"O3_250","alt":51.7,"value":9.84,"marker":1},{"panel":"f","series":"O3_250","alt":49.0,"value":9.2,"marker":0},{"panel":"f","series":"O3_250","alt":47.0,"value":8.7,"marker":1},{"panel":"f","series":"O3_250","alt":44.5,"value":8.3,"marker":0},{"panel":"f","series":"O3_250","alt":41.9,"value":8.29,"marker":1},{"panel":"f","series":"O3_250","alt":38.5,"value":8.5,"marker":0},{"panel":"f","series":"O3_250","alt":35.4,"value":9.02,"marker":1},{"panel":"f","series":"O3_250","alt":32.5,"value":9.7,"marker":0},{"panel":"f","series":"O3_250","alt":29.8,"value":10.65,"marker":1},{"panel":"f","series":"O3_250","alt":27.0,"value":12.5,"marker":0},{"panel":"f","series":"O3_250","alt":24.2,"value":14.64,"marker":1},{"panel":"f","series":"O3_250","alt":21.5,"value":16.5,"marker":0},{"panel":"f","series":"O3_250","alt":18.7,"value":18.14,"marker":1},{"panel":"f","series":"O3_250","alt":15.5,"value":19.3,"marker":0},{"panel":"f","series":"O3_250","alt":12.1,"value":19.77,"marker":1},{"panel":"f","series":"O3_250","alt":11.2,"value":19.9,"marker":0},
{"panel":"f","series":"CO","alt":103.0,"value":18.8,"marker":0},{"panel":"f","series":"CO","alt":101.0,"value":17.49,"marker":0},{"panel":"f","series":"CO","alt":98.7,"value":14.72,"marker":1},{"panel":"f","series":"CO","alt":94.0,"value":11.5,"marker":0},{"panel":"f","series":"CO","alt":90.5,"value":9.4,"marker":0},{"panel":"f","series":"CO","alt":88.5,"value":8.29,"marker":1},{"panel":"f","series":"CO","alt":85.7,"value":7.97,"marker":0},{"panel":"f","series":"CO","alt":82.4,"value":8.54,"marker":0},{"panel":"f","series":"CO","alt":80.0,"value":10.0,"marker":0},{"panel":"f","series":"CO","alt":77.3,"value":12.12,"marker":1},{"panel":"f","series":"CO","alt":75.0,"value":13.8,"marker":0},{"panel":"f","series":"CO","alt":72.6,"value":15.21,"marker":0},{"panel":"f","series":"CO","alt":71.0,"value":16.4,"marker":0},{"panel":"f","series":"CO","alt":69.4,"value":17.49,"marker":1},{"panel":"f","series":"CO","alt":66.0,"value":18.4,"marker":0},{"panel":"f","series":"CO","alt":62.9,"value":19.12,"marker":1},{"panel":"f","series":"CO","alt":57.8,"value":19.61,"marker":1},{"panel":"f","series":"CO","alt":52.2,"value":19.85,"marker":1},{"panel":"f","series":"CO","alt":47.0,"value":19.9,"marker":1},{"panel":"f","series":"CO","alt":41.9,"value":19.9,"marker":1},{"panel":"f","series":"CO","alt":36.8,"value":19.9,"marker":1},{"panel":"f","series":"CO","alt":30.3,"value":19.9,"marker":1},{"panel":"f","series":"CO","alt":24.7,"value":19.9,"marker":1},{"panel":"f","series":"CO","alt":19.6,"value":19.9,"marker":1},{"panel":"f","series":"CO","alt":14.0,"value":19.9,"marker":1},{"panel":"f","series":"CO","alt":11.2,"value":19.9,"marker":0},
{"panel":"f","series":"CO_O3","alt":103.0,"value":18.8,"marker":0},{"panel":"f","series":"CO_O3","alt":100.6,"value":17.65,"marker":0},{"panel":"f","series":"CO_O3","alt":96.8,"value":15.38,"marker":1},{"panel":"f","series":"CO_O3","alt":92.0,"value":11.8,"marker":0},{"panel":"f","series":"CO_O3","alt":87.5,"value":8.54,"marker":1},{"panel":"f","series":"CO_O3","alt":85.2,"value":8.21,"marker":0},{"panel":"f","series":"CO_O3","alt":82.4,"value":8.7,"marker":0},{"panel":"f","series":"CO_O3","alt":80.0,"value":10.2,"marker":0},{"panel":"f","series":"CO_O3","alt":77.3,"value":12.69,"marker":1},{"panel":"f","series":"CO_O3","alt":74.5,"value":14.4,"marker":0},{"panel":"f","series":"CO_O3","alt":71.7,"value":15.21,"marker":0},{"panel":"f","series":"CO_O3","alt":69.4,"value":15.38,"marker":1},{"panel":"f","series":"CO_O3","alt":67.0,"value":14.0,"marker":0},{"panel":"f","series":"CO_O3","alt":62.9,"value":11.96,"marker":1},{"panel":"f","series":"CO_O3","alt":59.5,"value":11.2,"marker":0},{"panel":"f","series":"CO_O3","alt":56.3,"value":10.73,"marker":1},{"panel":"f","series":"CO_O3","alt":52.2,"value":10.17,"marker":0},{"panel":"f","series":"CO_O3","alt":49.5,"value":9.5,"marker":0},{"panel":"f","series":"CO_O3","alt":47.0,"value":8.94,"marker":1},{"panel":"f","series":"CO_O3","alt":44.0,"value":8.8,"marker":0},{"panel":"f","series":"CO_O3","alt":41.5,"value":8.94,"marker":1},{"panel":"f","series":"CO_O3","alt":39.0,"value":9.2,"marker":0},{"panel":"f","series":"CO_O3","alt":36.8,"value":9.68,"marker":1},{"panel":"f","series":"CO_O3","alt":33.0,"value":10.3,"marker":0},{"panel":"f","series":"CO_O3","alt":30.3,"value":11.14,"marker":1},{"panel":"f","series":"CO_O3","alt":27.0,"value":12.5,"marker":0},{"panel":"f","series":"CO_O3","alt":24.7,"value":14.32,"marker":1},{"panel":"f","series":"CO_O3","alt":21.5,"value":16.4,"marker":0},{"panel":"f","series":"CO_O3","alt":18.7,"value":18.22,"marker":1},{"panel":"f","series":"CO_O3","alt":15.5,"value":19.4,"marker":0},{"panel":"f","series":"CO_O3","alt":12.1,"value":19.85,"marker":1}
],
"bounds_W": [
{"series":"O3_231","top":74.1,"bottom":25.0},{"series":"O3_250","top":74.8,"bottom":25.0},{"series":"CO","top":96.6,"bottom":73.1},{"series":"CO_O3","top":95.6,"bottom":25.0}
],
"bounds_S": [
{"series":"O3_250","top":69.4,"bottom":28.3},{"series":"O3_231","top":65.9,"bottom":28.3},{"series":"CO","top":97.1,"bottom":73.3},{"series":"CO_O3","top":95.9,"bottom":27.5}
],
"letters": [
{"panel":"a","label":"a)","value":12.0,"alt":89.3},{"panel":"b","label":"b)","value":1.51,"alt":90.2},{"panel":"c","label":"c)","value":6.99,"alt":89.3},{"panel":"d","label":"d)","value":6.6,"alt":91.3},{"panel":"e","label":"e)","value":1.34,"alt":90.8},{"panel":"f","label":"f)","value":6.74,"alt":90.3}
]
},
"spacing": 0,
"vconcat": [
{"spacing": 23, "center": true, "hconcat": [
 {"width": 45, "height": 200, "data": {"values": [{"label": "Winter (JJA)"}]}, "mark": {"type": "text", "angle": 270, "color": "#ffffff", "fontSize": 27, "font": "Liberation Sans"}, "encoding": {"text": {"field": "label"}}, "view": {"fill": "#6495ed", "stroke": null}},
 {"spacing": 0, "hconcat": [
  {"width": 307, "height": 321, "resolve": {"axis": {"x": "independent", "y": "independent"}}, "layer": [
   {"data": {"name": "curves"}, "transform": [{"filter": "datum.panel == 'a'"}], "mark": {"type": "line", "strokeWidth": 1.5, "interpolate": "catmull-rom", "clip": true},
    "encoding": {"x": {"field": "value", "type": "quantitative", "scale": {"domain": [5, 32], "nice": false, "zero": false}, "axis": {"orient": "bottom", "values": [10, 20, 30], "grid": true, "gridColor": "#dadada", "gridWidth": 2, "labels": false, "title": null}},
     "y": {"field": "alt", "type": "quantitative", "scale": {"domain": [11.25, 100.85], "nice": false, "zero": false}, "axis": {"orient": "left", "values": [16, 32, 48, 64, 80, 96], "labelExpr": "datum.value == 96 ? '10⁻³' : datum.value == 80 ? '10⁻²' : datum.value == 64 ? '10⁻¹' : datum.value == 48 ? '10⁰' : datum.value == 32 ? '10¹' : '10²'", "title": "Pressure (hPa)", "titlePadding": 10}},
     "color": {"field": "series", "type": "nominal", "scale": {"domain": ["O3_231", "O3_250", "CO", "CO_O3"], "range": ["#000000", "#0000ff", "#ff0000", "#228b22"]},
      "legend": {"orient": "none", "legendX": 85, "legendY": -77, "direction": "horizontal", "columns": 4, "title": null, "labelFontSize": 38, "labelFont": "Liberation Sans", "labelColor": "#000000", "symbolSize": 2500, "symbolStrokeWidth": 2.5, "columnPadding": 12, "labelOffset": 6, "labelLimit": 600,
       "labelExpr": "datum.value == 'O3_231' ? 'O₃ 231 GHz' : datum.value == 'O3_250' ? 'O₃ 250 GHz' : datum.value == 'CO' ? 'CO' : 'CO+O₃ 231 GHz'"}},
     "order": {"field": "alt", "type": "quantitative"}}},
   {"data": {"name": "curves"}, "transform": [{"filter": "false"}], "mark": {"type": "point", "filled": false},
    "encoding": {"x": {"field": "value", "type": "quantitative", "scale": {"domain": [5, 32], "nice": false, "zero": false}, "axis": null},
     "y": {"field": "alt", "type": "quantitative", "scale": {"domain": [11.25, 100.85], "nice": false, "zero": false}, "axis": null},
     "color": {"field": "series", "type": "nominal", "legend": null},
     "shape": {"field": "series", "type": "nominal", "scale": {"domain": ["O3_231", "O3_250", "CO", "CO_O3"], "range": ["M-1,0H1M0.26,0A0.26,0.26 0 1,1 -0.26,0A0.26,0.26 0 1,1 0.26,0", "M-1,0H1M-0.22,-0.22H0.22V0.22H-0.22Z", "M-1,0H1M0,-0.32L0.3,0.24H-0.3Z", "M-1,0H1M0,-0.28V0.28M-0.24,-0.14L0.24,0.14M-0.24,0.14L0.24,-0.14"]}, "legend": null}}},
   {"data": {"name": "curves"}, "transform": [{"filter": "datum.panel == 'a'"}, {"lookup": "series", "from": {"data": {"name": "bounds_W"}, "key": "series", "fields": ["top", "bottom"]}}, {"filter": "datum.alt >= datum.bottom && datum.alt <= datum.top"}], "mark": {"type": "line", "strokeWidth": 4.5, "interpolate": "catmull-rom", "clip": true},
    "encoding": {"x": {"field": "value", "type": "quantitative", "scale": {"domain": [5, 32], "nice": false, "zero": false}, "axis": {"orient": "top", "values": [10, 20, 30], "labels": false, "title": null}},
     "y": {"field": "alt", "type": "quantitative", "scale": {"domain": [11.25, 100.85], "nice": false, "zero": false}, "axis": {"orient": "right", "values": [16, 32, 48, 64, 80, 96], "labels": false, "title": null}},
     "color": {"field": "series", "type": "nominal", "legend": null}, "order": {"field": "alt", "type": "quantitative"}}},
   {"data": {"name": "curves"}, "transform": [{"filter": "datum.panel == 'a' && datum.marker == 1"}], "mark": {"type": "point", "filled": false, "strokeWidth": 1.3, "clip": true, "opacity": 1},
    "encoding": {"x": {"field": "value", "type": "quantitative", "scale": {"domain": [5, 32], "nice": false, "zero": false}, "axis": null},
     "y": {"field": "alt", "type": "quantitative", "scale": {"domain": [11.25, 100.85], "nice": false, "zero": false}, "axis": null},
     "color": {"field": "series", "type": "nominal", "legend": null},
     "shape": {"condition": [{"test": "datum.series == 'O3_250'", "value": "square"}, {"test": "datum.series == 'CO'", "value": "triangle-up"}, {"test": "datum.series == 'CO_O3'", "value": "M0,-1V1M-1,0H1M-0.7,-0.7L0.7,0.7M-0.7,0.7L0.7,-0.7"}], "value": "circle"},
     "size": {"condition": [{"test": "datum.series == 'CO'", "value": 220}, {"test": "datum.series == 'O3_250'", "value": 140}], "value": 170}}},
   {"data": {"name": "bounds_W"}, "transform": [{"fold": ["top", "bottom"], "as": ["edge", "alt"]}], "mark": {"type": "rule", "strokeDash": [2.5, 2.5], "strokeWidth": 2.5},
    "encoding": {"y": {"field": "alt", "type": "quantitative", "scale": {"domain": [11.25, 100.85], "nice": false, "zero": false}, "axis": null}, "color": {"field": "series", "type": "nominal", "legend": null}}},
   {"data": {"name": "letters"}, "transform": [{"filter": "datum.panel == 'a'"}], "mark": {"type": "text", "align": "left", "baseline": "middle", "fontSize": 30, "font": "Liberation Sans", "color": "#000000"},
    "encoding": {"x": {"field": "value", "type": "quantitative", "scale": {"domain": [5, 32], "nice": false, "zero": false}, "axis": null}, "y": {"field": "alt", "type": "quantitative", "scale": {"domain": [11.25, 100.85], "nice": false, "zero": false}, "axis": null}, "text": {"field": "label"}}}
  ]},
  {"width": 306, "height": 321, "resolve": {"axis": {"x": "independent", "y": "independent"}}, "layer": [
   {"data": {"name": "curves"}, "transform": [{"filter": "datum.panel == 'b'"}], "mark": {"type": "line", "strokeWidth": 1.5, "interpolate": "catmull-rom", "clip": true},
    "encoding": {"x": {"field": "value", "type": "quantitative", "scale": {"domain": [1, 9], "nice": false, "zero": false}, "axis": {"orient": "bottom", "values": [2, 4, 6, 8], "grid": true, "gridColor": "#dadada", "gridWidth": 2, "labels": false, "title": null}},
     "y": {"field": "alt", "type": "quantitative", "scale": {"domain": [11.25, 100.85], "nice": false, "zero": false}, "axis": {"orient": "left", "values": [16, 32, 48, 64, 80, 96], "labels": false, "title": null}},
     "color": {"field": "series", "type": "nominal", "legend": null}, "order": {"field": "alt", "type": "quantitative"}}},
   {"data": {"name": "curves"}, "transform": [{"filter": "datum.panel == 'b'"}, {"lookup": "series", "from": {"data": {"name": "bounds_W"}, "key": "series", "fields": ["top", "bottom"]}}, {"filter": "datum.alt >= datum.bottom && datum.alt <= datum.top"}], "mark": {"type": "line", "strokeWidth": 4.5, "interpolate": "catmull-rom", "clip": true},
    "encoding": {"x": {"field": "value", "type": "quantitative", "scale": {"domain": [1, 9], "nice": false, "zero": false}, "axis": {"orient": "top", "values": [2, 4, 6, 8], "labels": false, "title": null}},
     "y": {"field": "alt", "type": "quantitative", "scale": {"domain": [11.25, 100.85], "nice": false, "zero": false}, "axis": {"orient": "right", "values": [16, 32, 48, 64, 80, 96], "labels": false, "title": null}},
     "color": {"field": "series", "type": "nominal", "legend": null}, "order": {"field": "alt", "type": "quantitative"}}},
   {"data": {"name": "curves"}, "transform": [{"filter": "datum.panel == 'b' && datum.marker == 1"}], "mark": {"type": "point", "filled": false, "strokeWidth": 1.3, "clip": true, "opacity": 1},
    "encoding": {"x": {"field": "value", "type": "quantitative", "scale": {"domain": [1, 9], "nice": false, "zero": false}, "axis": null},
     "y": {"field": "alt", "type": "quantitative", "scale": {"domain": [11.25, 100.85], "nice": false, "zero": false}, "axis": null},
     "color": {"field": "series", "type": "nominal", "legend": null},
     "shape": {"condition": [{"test": "datum.series == 'O3_250'", "value": "square"}, {"test": "datum.series == 'CO'", "value": "triangle-up"}, {"test": "datum.series == 'CO_O3'", "value": "M0,-1V1M-1,0H1M-0.7,-0.7L0.7,0.7M-0.7,0.7L0.7,-0.7"}], "value": "circle"},
     "size": {"condition": [{"test": "datum.series == 'CO'", "value": 220}, {"test": "datum.series == 'O3_250'", "value": 140}], "value": 170}}},
   {"data": {"name": "bounds_W"}, "transform": [{"fold": ["top", "bottom"], "as": ["edge", "alt"]}], "mark": {"type": "rule", "strokeDash": [2.5, 2.5], "strokeWidth": 2.5},
    "encoding": {"y": {"field": "alt", "type": "quantitative", "scale": {"domain": [11.25, 100.85], "nice": false, "zero": false}, "axis": null}, "color": {"field": "series", "type": "nominal", "legend": null}}},
   {"data": {"name": "letters"}, "transform": [{"filter": "datum.panel == 'b'"}], "mark": {"type": "text", "align": "left", "baseline": "middle", "fontSize": 30, "font": "Liberation Sans", "color": "#000000"},
    "encoding": {"x": {"field": "value", "type": "quantitative", "scale": {"domain": [1, 9], "nice": false, "zero": false}, "axis": null}, "y": {"field": "alt", "type": "quantitative", "scale": {"domain": [11.25, 100.85], "nice": false, "zero": false}, "axis": null}, "text": {"field": "label"}}}
  ]},
  {"width": 304, "height": 321, "resolve": {"axis": {"x": "independent", "y": "independent"}}, "layer": [
   {"data": {"name": "curves"}, "transform": [{"filter": "datum.panel == 'c'"}], "mark": {"type": "line", "strokeWidth": 1.5, "interpolate": "catmull-rom", "clip": true},
    "encoding": {"x": {"field": "value", "type": "quantitative", "scale": {"domain": [6, 21], "nice": false, "zero": false}, "axis": {"orient": "bottom", "values": [10, 15, 20], "grid": true, "gridColor": "#dadada", "gridWidth": 2, "labels": false, "title": null}},
     "y": {"field": "alt", "type": "quantitative", "scale": {"domain": [11.25, 100.85], "nice": false, "zero": false}, "axis": {"orient": "left", "values": [16, 32, 48, 64, 80, 96], "labels": false, "title": null}},
     "color": {"field": "series", "type": "nominal", "legend": null}, "order": {"field": "alt", "type": "quantitative"}}},
   {"data": {"name": "curves"}, "transform": [{"filter": "datum.panel == 'c'"}, {"lookup": "series", "from": {"data": {"name": "bounds_W"}, "key": "series", "fields": ["top", "bottom"]}}, {"filter": "datum.alt >= datum.bottom && datum.alt <= datum.top"}], "mark": {"type": "line", "strokeWidth": 4.5, "interpolate": "catmull-rom", "clip": true},
    "encoding": {"x": {"field": "value", "type": "quantitative", "scale": {"domain": [6, 21], "nice": false, "zero": false}, "axis": {"orient": "top", "values": [10, 15, 20], "labels": false, "title": null}},
     "y": {"field": "alt", "type": "quantitative", "scale": {"domain": [11.25, 100.85], "nice": false, "zero": false}, "axis": {"orient": "right", "values": [16, 32, 48, 64, 80, 96], "title": "Altitude (km)", "titleAngle": 270, "titleBaseline": "top", "titlePadding": 10, "labelPadding": 17}},
     "color": {"field": "series", "type": "nominal", "legend": null}, "order": {"field": "alt", "type": "quantitative"}}},
   {"data": {"name": "curves"}, "transform": [{"filter": "datum.panel == 'c' && datum.marker == 1"}], "mark": {"type": "point", "filled": false, "strokeWidth": 1.3, "clip": true, "opacity": 1},
    "encoding": {"x": {"field": "value", "type": "quantitative", "scale": {"domain": [6, 21], "nice": false, "zero": false}, "axis": null},
     "y": {"field": "alt", "type": "quantitative", "scale": {"domain": [11.25, 100.85], "nice": false, "zero": false}, "axis": null},
     "color": {"field": "series", "type": "nominal", "legend": null},
     "shape": {"condition": [{"test": "datum.series == 'O3_250'", "value": "square"}, {"test": "datum.series == 'CO'", "value": "triangle-up"}, {"test": "datum.series == 'CO_O3'", "value": "M0,-1V1M-1,0H1M-0.7,-0.7L0.7,0.7M-0.7,0.7L0.7,-0.7"}], "value": "circle"},
     "size": {"condition": [{"test": "datum.series == 'CO'", "value": 220}, {"test": "datum.series == 'O3_250'", "value": 140}], "value": 170}}},
   {"data": {"name": "bounds_W"}, "transform": [{"fold": ["top", "bottom"], "as": ["edge", "alt"]}], "mark": {"type": "rule", "strokeDash": [2.5, 2.5], "strokeWidth": 2.5},
    "encoding": {"y": {"field": "alt", "type": "quantitative", "scale": {"domain": [11.25, 100.85], "nice": false, "zero": false}, "axis": null}, "color": {"field": "series", "type": "nominal", "legend": null}}},
   {"data": {"name": "letters"}, "transform": [{"filter": "datum.panel == 'c'"}], "mark": {"type": "text", "align": "left", "baseline": "middle", "fontSize": 30, "font": "Liberation Sans", "color": "#000000"},
    "encoding": {"x": {"field": "value", "type": "quantitative", "scale": {"domain": [6, 21], "nice": false, "zero": false}, "axis": null}, "y": {"field": "alt", "type": "quantitative", "scale": {"domain": [11.25, 100.85], "nice": false, "zero": false}, "axis": null}, "text": {"field": "label"}}}
  ]}
 ]}
]},
{"spacing": 23, "center": true, "hconcat": [
 {"width": 45, "height": 232, "data": {"values": [{"label": "Summer (DJF)"}]}, "mark": {"type": "text", "angle": 270, "color": "#ffffff", "fontSize": 27, "font": "Liberation Sans"}, "encoding": {"text": {"field": "label"}}, "view": {"fill": "#f08080", "stroke": null}},
 {"spacing": 0, "hconcat": [
  {"width": 307, "height": 321, "resolve": {"axis": {"x": "independent", "y": "independent"}}, "layer": [
   {"data": {"name": "curves"}, "transform": [{"filter": "datum.panel == 'd'"}], "mark": {"type": "line", "strokeWidth": 1.5, "interpolate": "catmull-rom", "clip": true},
    "encoding": {"x": {"field": "value", "type": "quantitative", "scale": {"domain": [5, 32], "nice": false, "zero": false}, "axis": {"orient": "bottom", "values": [10, 20, 30], "grid": true, "gridColor": "#dadada", "gridWidth": 2, "title": "AVK FWHM (km)", "titlePadding": 14, "labelPadding": 20}},
     "y": {"field": "alt", "type": "quantitative", "scale": {"domain": [11.25, 100.85], "nice": false, "zero": false}, "axis": {"orient": "left", "values": [16, 32, 48, 64, 80, 96], "labelExpr": "datum.value == 96 ? '10⁻³' : datum.value == 80 ? '10⁻²' : datum.value == 64 ? '10⁻¹' : datum.value == 48 ? '10⁰' : datum.value == 32 ? '10¹' : '10²'", "title": "Pressure (hPa)", "titlePadding": 10}},
     "color": {"field": "series", "type": "nominal", "legend": null}, "order": {"field": "alt", "type": "quantitative"}}},
   {"data": {"name": "curves"}, "transform": [{"filter": "datum.panel == 'd'"}, {"lookup": "series", "from": {"data": {"name": "bounds_S"}, "key": "series", "fields": ["top", "bottom"]}}, {"filter": "datum.alt >= datum.bottom && datum.alt <= datum.top"}], "mark": {"type": "line", "strokeWidth": 4.5, "interpolate": "catmull-rom", "clip": true},
    "encoding": {"x": {"field": "value", "type": "quantitative", "scale": {"domain": [5, 32], "nice": false, "zero": false}, "axis": {"orient": "top", "values": [10, 20, 30], "labels": false, "title": null}},
     "y": {"field": "alt", "type": "quantitative", "scale": {"domain": [11.25, 100.85], "nice": false, "zero": false}, "axis": {"orient": "right", "values": [16, 32, 48, 64, 80, 96], "labels": false, "title": null}},
     "color": {"field": "series", "type": "nominal", "legend": null}, "order": {"field": "alt", "type": "quantitative"}}},
   {"data": {"name": "curves"}, "transform": [{"filter": "datum.panel == 'd' && datum.marker == 1"}], "mark": {"type": "point", "filled": false, "strokeWidth": 1.3, "clip": true, "opacity": 1},
    "encoding": {"x": {"field": "value", "type": "quantitative", "scale": {"domain": [5, 32], "nice": false, "zero": false}, "axis": null},
     "y": {"field": "alt", "type": "quantitative", "scale": {"domain": [11.25, 100.85], "nice": false, "zero": false}, "axis": null},
     "color": {"field": "series", "type": "nominal", "legend": null},
     "shape": {"condition": [{"test": "datum.series == 'O3_250'", "value": "square"}, {"test": "datum.series == 'CO'", "value": "triangle-up"}, {"test": "datum.series == 'CO_O3'", "value": "M0,-1V1M-1,0H1M-0.7,-0.7L0.7,0.7M-0.7,0.7L0.7,-0.7"}], "value": "circle"},
     "size": {"condition": [{"test": "datum.series == 'CO'", "value": 220}, {"test": "datum.series == 'O3_250'", "value": 140}], "value": 170}}},
   {"data": {"name": "bounds_S"}, "transform": [{"fold": ["top", "bottom"], "as": ["edge", "alt"]}], "mark": {"type": "rule", "strokeDash": [2.5, 2.5], "strokeWidth": 2.5},
    "encoding": {"y": {"field": "alt", "type": "quantitative", "scale": {"domain": [11.25, 100.85], "nice": false, "zero": false}, "axis": null}, "color": {"field": "series", "type": "nominal", "legend": null}}},
   {"data": {"name": "letters"}, "transform": [{"filter": "datum.panel == 'd'"}], "mark": {"type": "text", "align": "left", "baseline": "middle", "fontSize": 30, "font": "Liberation Sans", "color": "#000000"},
    "encoding": {"x": {"field": "value", "type": "quantitative", "scale": {"domain": [5, 32], "nice": false, "zero": false}, "axis": null}, "y": {"field": "alt", "type": "quantitative", "scale": {"domain": [11.25, 100.85], "nice": false, "zero": false}, "axis": null}, "text": {"field": "label"}}}
  ]},
  {"width": 306, "height": 321, "resolve": {"axis": {"x": "independent", "y": "independent"}}, "layer": [
   {"data": {"name": "curves"}, "transform": [{"filter": "datum.panel == 'e'"}], "mark": {"type": "line", "strokeWidth": 1.5, "interpolate": "catmull-rom", "clip": true},
    "encoding": {"x": {"field": "value", "type": "quantitative", "scale": {"domain": [1, 9], "nice": false, "zero": false}, "axis": {"orient": "bottom", "values": [2, 4, 6, 8], "grid": true, "gridColor": "#dadada", "gridWidth": 2, "title": "σₒᵦₛ (m s⁻¹)", "titlePadding": 14, "labelPadding": 20}},
     "y": {"field": "alt", "type": "quantitative", "scale": {"domain": [11.25, 100.85], "nice": false, "zero": false}, "axis": {"orient": "left", "values": [16, 32, 48, 64, 80, 96], "labels": false, "title": null}},
     "color": {"field": "series", "type": "nominal", "legend": null}, "order": {"field": "alt", "type": "quantitative"}}},
   {"data": {"name": "curves"}, "transform": [{"filter": "datum.panel == 'e'"}, {"lookup": "series", "from": {"data": {"name": "bounds_S"}, "key": "series", "fields": ["top", "bottom"]}}, {"filter": "datum.alt >= datum.bottom && datum.alt <= datum.top"}], "mark": {"type": "line", "strokeWidth": 4.5, "interpolate": "catmull-rom", "clip": true},
    "encoding": {"x": {"field": "value", "type": "quantitative", "scale": {"domain": [1, 9], "nice": false, "zero": false}, "axis": {"orient": "top", "values": [2, 4, 6, 8], "labels": false, "title": null}},
     "y": {"field": "alt", "type": "quantitative", "scale": {"domain": [11.25, 100.85], "nice": false, "zero": false}, "axis": {"orient": "right", "values": [16, 32, 48, 64, 80, 96], "labels": false, "title": null}},
     "color": {"field": "series", "type": "nominal", "legend": null}, "order": {"field": "alt", "type": "quantitative"}}},
   {"data": {"name": "curves"}, "transform": [{"filter": "datum.panel == 'e' && datum.marker == 1"}], "mark": {"type": "point", "filled": false, "strokeWidth": 1.3, "clip": true, "opacity": 1},
    "encoding": {"x": {"field": "value", "type": "quantitative", "scale": {"domain": [1, 9], "nice": false, "zero": false}, "axis": null},
     "y": {"field": "alt", "type": "quantitative", "scale": {"domain": [11.25, 100.85], "nice": false, "zero": false}, "axis": null},
     "color": {"field": "series", "type": "nominal", "legend": null},
     "shape": {"condition": [{"test": "datum.series == 'O3_250'", "value": "square"}, {"test": "datum.series == 'CO'", "value": "triangle-up"}, {"test": "datum.series == 'CO_O3'", "value": "M0,-1V1M-1,0H1M-0.7,-0.7L0.7,0.7M-0.7,0.7L0.7,-0.7"}], "value": "circle"},
     "size": {"condition": [{"test": "datum.series == 'CO'", "value": 220}, {"test": "datum.series == 'O3_250'", "value": 140}], "value": 170}}},
   {"data": {"name": "bounds_S"}, "transform": [{"fold": ["top", "bottom"], "as": ["edge", "alt"]}], "mark": {"type": "rule", "strokeDash": [2.5, 2.5], "strokeWidth": 2.5},
    "encoding": {"y": {"field": "alt", "type": "quantitative", "scale": {"domain": [11.25, 100.85], "nice": false, "zero": false}, "axis": null}, "color": {"field": "series", "type": "nominal", "legend": null}}},
   {"data": {"name": "letters"}, "transform": [{"filter": "datum.panel == 'e'"}], "mark": {"type": "text", "align": "left", "baseline": "middle", "fontSize": 30, "font": "Liberation Sans", "color": "#000000"},
    "encoding": {"x": {"field": "value", "type": "quantitative", "scale": {"domain": [1, 9], "nice": false, "zero": false}, "axis": null}, "y": {"field": "alt", "type": "quantitative", "scale": {"domain": [11.25, 100.85], "nice": false, "zero": false}, "axis": null}, "text": {"field": "label"}}}
  ]},
  {"width": 304, "height": 321, "resolve": {"axis": {"x": "independent", "y": "independent"}}, "layer": [
   {"data": {"name": "curves"}, "transform": [{"filter": "datum.panel == 'f'"}], "mark": {"type": "line", "strokeWidth": 1.5, "interpolate": "catmull-rom", "clip": true},
    "encoding": {"x": {"field": "value", "type": "quantitative", "scale": {"domain": [6, 21], "nice": false, "zero": false}, "axis": {"orient": "bottom", "values": [10, 15, 20], "grid": true, "gridColor": "#dadada", "gridWidth": 2, "title": "σₜₒₜ (m s⁻¹)", "titlePadding": 14, "labelPadding": 20}},
     "y": {"field": "alt", "type": "quantitative", "scale": {"domain": [11.25, 100.85], "nice": false, "zero": false}, "axis": {"orient": "left", "values": [16, 32, 48, 64, 80, 96], "labels": false, "title": null}},
     "color": {"field": "series", "type": "nominal", "legend": null}, "order": {"field": "alt", "type": "quantitative"}}},
   {"data": {"name": "curves"}, "transform": [{"filter": "datum.panel == 'f'"}, {"lookup": "series", "from": {"data": {"name": "bounds_S"}, "key": "series", "fields": ["top", "bottom"]}}, {"filter": "datum.alt >= datum.bottom && datum.alt <= datum.top"}], "mark": {"type": "line", "strokeWidth": 4.5, "interpolate": "catmull-rom", "clip": true},
    "encoding": {"x": {"field": "value", "type": "quantitative", "scale": {"domain": [6, 21], "nice": false, "zero": false}, "axis": {"orient": "top", "values": [10, 15, 20], "labels": false, "title": null}},
     "y": {"field": "alt", "type": "quantitative", "scale": {"domain": [11.25, 100.85], "nice": false, "zero": false}, "axis": {"orient": "right", "values": [16, 32, 48, 64, 80, 96], "title": "Altitude (km)", "titleAngle": 270, "titleBaseline": "top", "titlePadding": 10, "labelPadding": 17}},
     "color": {"field": "series", "type": "nominal", "legend": null}, "order": {"field": "alt", "type": "quantitative"}}},
   {"data": {"name": "curves"}, "transform": [{"filter": "datum.panel == 'f' && datum.marker == 1"}], "mark": {"type": "point", "filled": false, "strokeWidth": 1.3, "clip": true, "opacity": 1},
    "encoding": {"x": {"field": "value", "type": "quantitative", "scale": {"domain": [6, 21], "nice": false, "zero": false}, "axis": null},
     "y": {"field": "alt", "type": "quantitative", "scale": {"domain": [11.25, 100.85], "nice": false, "zero": false}, "axis": null},
     "color": {"field": "series", "type": "nominal", "legend": null},
     "shape": {"condition": [{"test": "datum.series == 'O3_250'", "value": "square"}, {"test": "datum.series == 'CO'", "value": "triangle-up"}, {"test": "datum.series == 'CO_O3'", "value": "M0,-1V1M-1,0H1M-0.7,-0.7L0.7,0.7M-0.7,0.7L0.7,-0.7"}], "value": "circle"},
     "size": {"condition": [{"test": "datum.series == 'CO'", "value": 220}, {"test": "datum.series == 'O3_250'", "value": 140}], "value": 170}}},
   {"data": {"name": "bounds_S"}, "transform": [{"fold": ["top", "bottom"], "as": ["edge", "alt"]}], "mark": {"type": "rule", "strokeDash": [2.5, 2.5], "strokeWidth": 2.5},
    "encoding": {"y": {"field": "alt", "type": "quantitative", "scale": {"domain": [11.25, 100.85], "nice": false, "zero": false}, "axis": null}, "color": {"field": "series", "type": "nominal", "legend": null}}},
   {"data": {"name": "letters"}, "transform": [{"filter": "datum.panel == 'f'"}], "mark": {"type": "text", "align": "left", "baseline": "middle", "fontSize": 30, "font": "Liberation Sans", "color": "#000000"},
    "encoding": {"x": {"field": "value", "type": "quantitative", "scale": {"domain": [6, 21], "nice": false, "zero": false}, "axis": null}, "y": {"field": "alt", "type": "quantitative", "scale": {"domain": [11.25, 100.85], "nice": false, "zero": false}, "axis": null}, "text": {"field": "label"}}}
  ]}
 ]}
]}
]
}
